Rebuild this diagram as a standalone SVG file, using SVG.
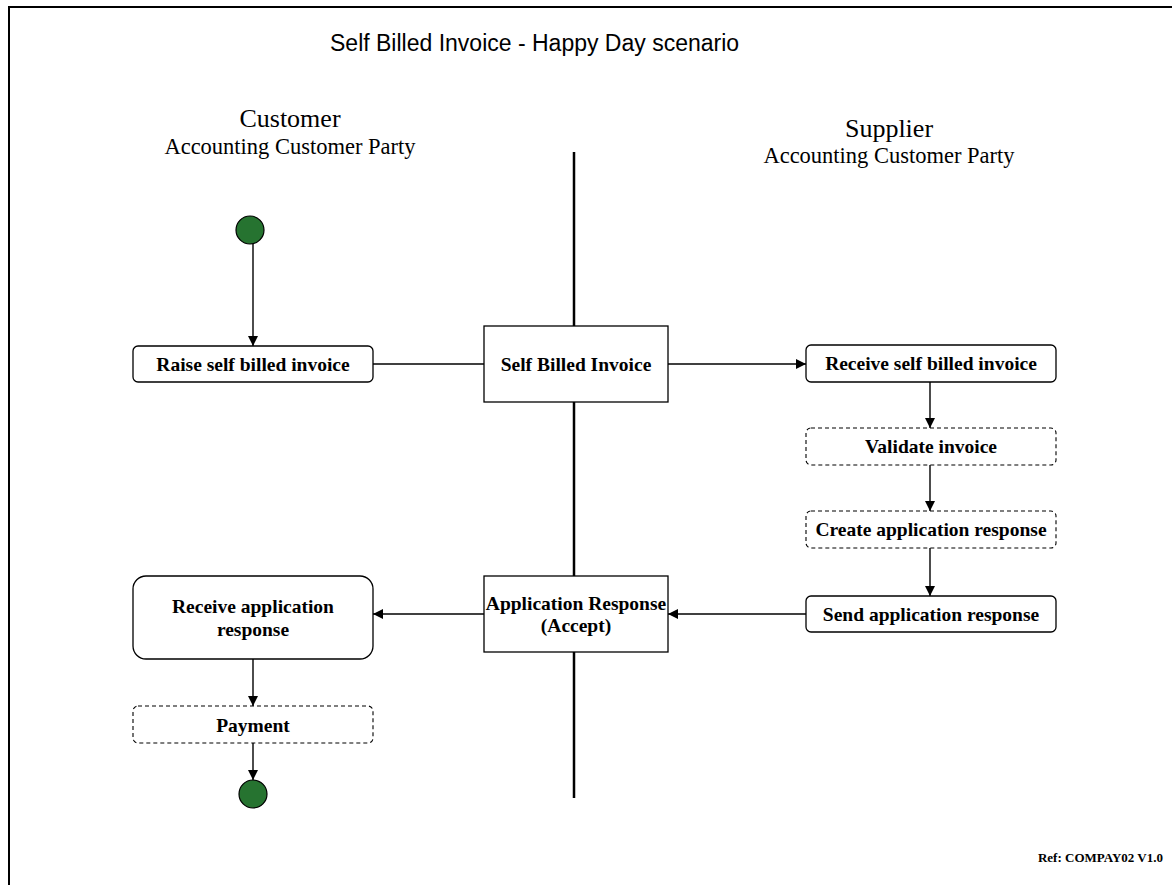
<svg xmlns="http://www.w3.org/2000/svg" width="1172" height="885" viewBox="0 0 1172 885">
  <defs>
    <marker id="arrow" viewBox="0 0 10 10" refX="10" refY="5" markerWidth="10" markerHeight="10" markerUnits="userSpaceOnUse" orient="auto">
      <path d="M0,0 L10,5 L0,10 z" fill="#000"/>
    </marker>
    <style>
      .frame { stroke: #000; stroke-width: 2; fill: none; }
      .lane { stroke: #000; stroke-width: 2.5; }
      .title { font-family: "Liberation Sans", Arial, sans-serif; font-size: 23px; fill: #000; }
      .party { font-family: "Liberation Serif", "Times New Roman", serif; font-size: 26px; fill: #000; text-anchor: middle; }
      .role { font-family: "Liberation Serif", "Times New Roman", serif; font-size: 22.5px; fill: #000; text-anchor: middle; }
      .action { fill: #fff; stroke: #000; stroke-width: 1.3; }
      .optional { fill: #fff; stroke: #000; stroke-width: 1.1; stroke-dasharray: 4 3; }
      .doc { fill: #fff; stroke: #000; stroke-width: 1.3; }
      .label { font-family: "Liberation Serif", "Times New Roman", serif; font-size: 19.5px; font-weight: bold; fill: #000; text-anchor: middle; }
      .state { fill: #267330; stroke: #000; stroke-width: 1.2; }
      .flow { stroke: #000; stroke-width: 1.4; fill: none; }
      .ref { font-family: "Liberation Serif", "Times New Roman", serif; font-size: 13px; font-weight: bold; fill: #000; text-anchor: end; }
    </style>
  </defs>

  <rect width="1172" height="885" fill="#fff"/>
  <!-- page frame (top and left edges) -->
  <path class="frame" d="M9,885 V7 H1172"/>

  <text class="title" x="330" y="51">Self Billed Invoice - Happy Day scenario</text>

  <g id="customer-header">
    <text class="party" x="290" y="127">Customer</text>
    <text class="role" x="290" y="154">Accounting Customer Party</text>
  </g>
  <g id="supplier-header">
    <text class="party" x="889" y="137">Supplier</text>
    <text class="role" x="889" y="163">Accounting Customer Party</text>
  </g>

  <!-- swimlane divider -->
  <line class="lane" x1="574" y1="152" x2="574" y2="798"/>

  <g id="connectors">
    <line class="flow" x1="253" y1="244" x2="253" y2="346" marker-end="url(#arrow)"/>
    <line class="flow" x1="373" y1="364" x2="484" y2="364"/>
    <line class="flow" x1="668" y1="364" x2="806" y2="364" marker-end="url(#arrow)"/>
    <line class="flow" x1="930" y1="382" x2="930" y2="428" marker-end="url(#arrow)"/>
    <line class="flow" x1="930" y1="465" x2="930" y2="511" marker-end="url(#arrow)"/>
    <line class="flow" x1="930" y1="548" x2="930" y2="596" marker-end="url(#arrow)"/>
    <line class="flow" x1="806" y1="614" x2="668" y2="614" marker-end="url(#arrow)"/>
    <line class="flow" x1="484" y1="614" x2="373" y2="614" marker-end="url(#arrow)"/>
    <line class="flow" x1="253" y1="659" x2="253" y2="706" marker-end="url(#arrow)"/>
    <line class="flow" x1="253" y1="743" x2="253" y2="780" marker-end="url(#arrow)"/>
  </g>

  <g id="start">
    <circle class="state" cx="250" cy="230" r="14"/>
  </g>

  <g id="raise-invoice">
    <rect class="action" x="133" y="346" width="240" height="36" rx="5"/>
    <text class="label" x="253" y="371">Raise self billed invoice</text>
  </g>

  <g id="self-billed-invoice">
    <rect class="doc" x="484" y="326" width="184" height="76"/>
    <text class="label" x="576" y="371">Self Billed Invoice</text>
  </g>

  <g id="receive-invoice">
    <rect class="action" x="806" y="345" width="250" height="37" rx="5"/>
    <text class="label" x="931" y="370">Receive self billed invoice</text>
  </g>

  <g id="validate-invoice">
    <rect class="optional" x="806" y="428" width="250" height="37" rx="5"/>
    <text class="label" x="931" y="453">Validate invoice</text>
  </g>

  <g id="create-response">
    <rect class="optional" x="806" y="511" width="250" height="37" rx="5"/>
    <text class="label" x="931" y="536">Create application response</text>
  </g>

  <g id="send-response">
    <rect class="action" x="806" y="596" width="250" height="36" rx="5"/>
    <text class="label" x="931" y="621">Send application response</text>
  </g>

  <g id="application-response">
    <rect class="doc" x="484" y="576" width="184" height="76"/>
    <text class="label" x="576" y="610">Application Response</text>
    <text class="label" x="576" y="632">(Accept)</text>
  </g>

  <g id="receive-response">
    <rect class="action" x="133" y="576" width="240" height="83" rx="13"/>
    <text class="label" x="253" y="613">Receive application</text>
    <text class="label" x="253" y="636">response</text>
  </g>

  <g id="payment">
    <rect class="optional" x="133" y="706" width="240" height="37" rx="5"/>
    <text class="label" x="253" y="732">Payment</text>
  </g>

  <g id="end">
    <circle class="state" cx="253" cy="794" r="14"/>
  </g>

  <text class="ref" x="1163" y="862">Ref: COMPAY02 V1.0</text>
</svg>
